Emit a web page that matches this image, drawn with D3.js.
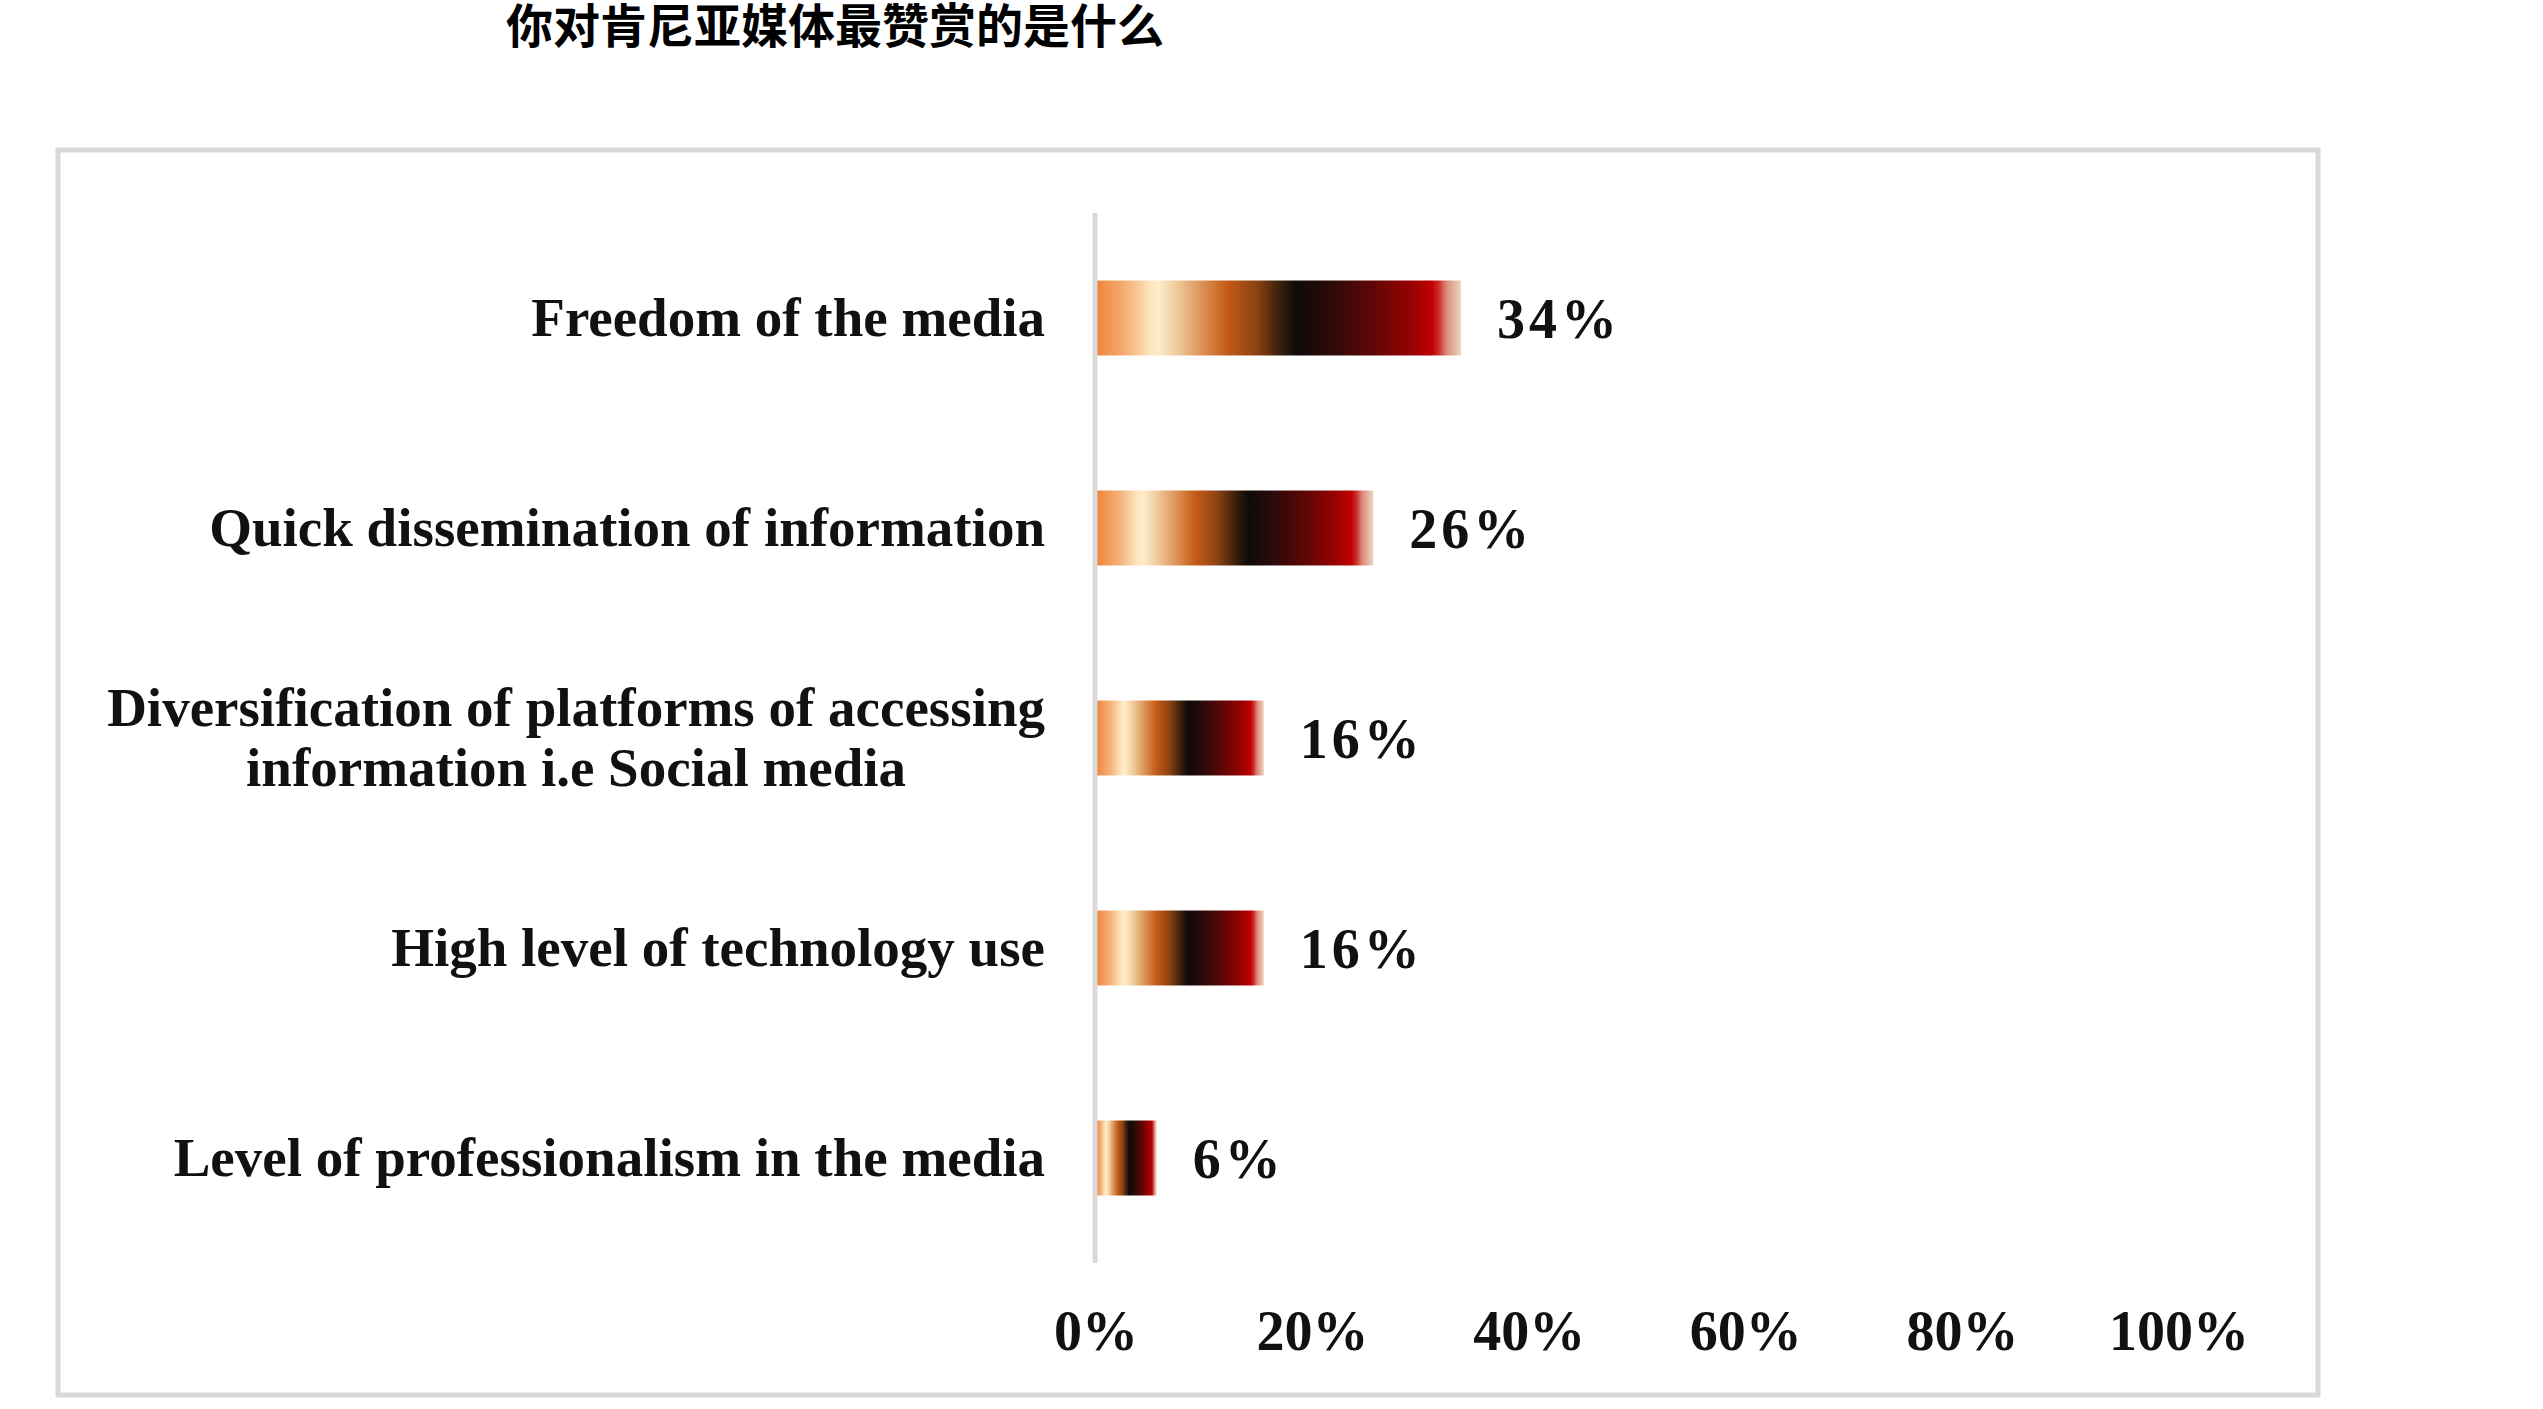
<!DOCTYPE html>
<html>
<head>
<meta charset="utf-8">
<script src="https://cdn.jsdelivr.net/npm/d3@7/dist/d3.min.js"></script>
<style>
  body { margin: 0; background: #fff; }
  svg { display: block; }
  .cat { font-family: "Liberation Serif", serif; font-weight: bold; font-size: 55px; fill: #111; }
  .tick-label { font-family: "Liberation Serif", serif; font-weight: bold; font-size: 56px; fill: #111; }
  .val { font-family: "Liberation Serif", serif; font-weight: bold; font-size: 56px; fill: #111; letter-spacing: 4px; }
  .title { font-family: "Noto Sans CJK SC", sans-serif; font-weight: bold; font-size: 47px; fill: #000; }
</style>
</head>
<body>
<svg id="chart" width="2543" height="1409"></svg>
<script>
// chart data
var title = '你对肯尼亚媒体最赞赏的是什么';
var categories = [
    ['Freedom of the media'],
    ['Quick dissemination of information'],
    ['Diversification of platforms of accessing', 'information i.e Social media'],
    ['High level of technology use'],
    ['Level of professionalism in the media']
];
var values = [33.7, 25.6, 15.5, 15.5, 5.6];
var ticks = [0, 20, 40, 60, 80, 100];

// gradient bands seen along each bar (offset %, colour)
var fireStops = [
    [0, '#f0843a'], [8, '#f4ae74'], [15, '#fde6c0'], [17, '#fdeccc'],
    [22, '#f0cc9c'], [30, '#d9894c'], [36, '#c45a18'], [44, '#8a4212'],
    [50, '#3e200c'], [55, '#0e0a0a'], [64, '#2c0a0a'], [75, '#5c0606'],
    [86, '#960202'], [92, '#c00000'], [94, '#cc3030'], [96, '#dc8878'],
    [100, '#ead8c2']
];

var svg = d3.select('#chart');

var x = d3.scaleLinear().domain([0, 100]).range([1096, 2179]);
var y = d3.scaleBand()
    .domain(d3.range(categories.length))
    .range([213, 1263])
    .paddingInner(0.643)
    .paddingOuter(0.3215);

var grad = svg.append('defs').append('linearGradient').attr('id', 'fire');
grad.selectAll('stop').data(fireStops).enter().append('stop')
    .attr('offset', function(d) { return d[0] + '%'; })
    .attr('stop-color', function(d) { return d[1]; });

// outer frame
svg.append('rect')
    .attr('x', 58).attr('y', 150)
    .attr('width', 2260).attr('height', 1245)
    .attr('fill', 'none')
    .attr('stroke', '#d9d9d9')
    .attr('stroke-width', 5);

svg.append('text')
    .attr('class', 'title')
    .attr('x', 506).attr('y', 43)
    .text(title);

// bars
svg.selectAll('.bar').data(values).enter().append('rect')
    .attr('class', 'bar')
    .attr('x', x(0))
    .attr('y', function(d, i) { return y(i); })
    .attr('width', function(d) { return x(d) - x(0); })
    .attr('height', y.bandwidth())
    .attr('fill', 'url(#fire)');

// category axis line
svg.append('line')
    .attr('x1', x(0) - 1).attr('x2', x(0) - 1)
    .attr('y1', y.range()[0]).attr('y2', y.range()[1])
    .attr('stroke', '#d9d9d9')
    .attr('stroke-width', 5);

// value labels
svg.selectAll('.val').data(values).enter().append('text')
    .attr('class', 'val')
    .attr('x', function(d) { return x(d) + 36; })
    .attr('y', function(d, i) { return y(i) + y.bandwidth() / 2; })
    .attr('dy', '0.35em')
    .text(function(d) { return d3.format('.0f')(d) + '%'; });

// category labels, wrapped ones centred in their block
var labelRight = 1045;
var lineH = 60;
categories.forEach(function(lines, i) {
    var cy = y(i) + y.bandwidth() / 2;
    var g = svg.append('g');
    var texts = lines.map(function(s, k) {
        return g.append('text')
            .attr('class', 'cat')
            .attr('y', cy + (k - (lines.length - 1) / 2) * lineH)
            .attr('dy', '0.33em')
            .text(s);
    });
    if (lines.length === 1) {
        texts[0].attr('x', labelRight).attr('text-anchor', 'end');
    } else {
        var w = d3.max(texts, function(t) { return t.node().getComputedTextLength(); });
        texts.forEach(function(t) {
            t.attr('x', labelRight - w / 2).attr('text-anchor', 'middle');
        });
    }
});

// value axis labels
svg.selectAll('.tick-label').data(ticks).enter().append('text')
    .attr('class', 'tick-label')
    .attr('x', function(d) { return x(d); })
    .attr('y', 1330)
    .attr('dy', '0.35em')
    .attr('text-anchor', 'middle')
    .text(function(d) { return d + '%'; });
</script>
</body>
</html>
